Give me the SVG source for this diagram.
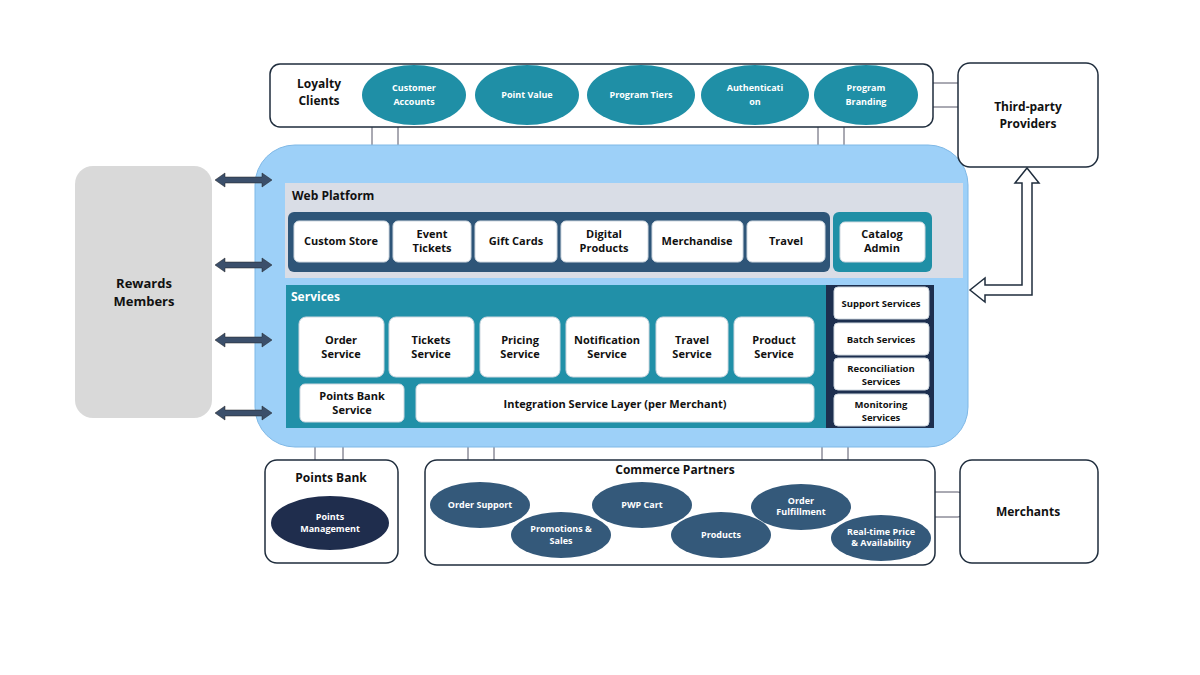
<svg xmlns="http://www.w3.org/2000/svg" width="1200" height="675" viewBox="0 0 1200 675">
<style>
text{font-family:"Open Sans","Liberation Sans",sans-serif;font-weight:bold;text-anchor:middle}
.box{fill:#fff;stroke:#1f2d3d;stroke-width:1.5}
.wb{fill:#fff;stroke:#cfd8e0;stroke-width:1}
.t{font-size:11px;fill:#111}
.w{font-size:9px;fill:#fff}
.oc{fill:#1f8fa6}
.oe{fill:#34597a}
.tab{fill:#fff;stroke:#556;stroke-width:1}
.arr{fill:#3b4f6b;stroke:#222;stroke-width:0.5}
</style>
<rect width="1200" height="675" fill="#fff"/>
<g id="tabs">
<rect class="tab" x="372" y="120" width="26" height="33" rx="6"/>
<rect class="tab" x="818" y="120" width="26" height="33" rx="6"/>
<rect class="tab" x="926" y="83" width="38" height="24" rx="6"/>
<rect class="tab" x="315" y="436" width="28" height="30" rx="6"/>
<rect class="tab" x="468" y="436" width="26" height="30" rx="6"/>
<rect class="tab" x="822" y="436" width="26" height="30" rx="6"/>
<rect class="tab" x="928" y="492" width="36" height="25" rx="6"/>
</g>
<g id="rewards-members"><rect x="75" y="166" width="137" height="252" rx="18" fill="#d9d9d9"/><text x="144" y="288" font-size="13" fill="#111">Rewards</text><text x="144" y="306" font-size="13" fill="#111">Members</text></g>
<g id="platform"><rect x="255" y="145" width="713" height="302" rx="40" fill="#9dd0f8" stroke="#7fb8e6"/></g>
<g id="loyalty-clients">
<rect class="box" x="270" y="64" width="663" height="63" rx="10"/>
<text x="319" y="88" font-size="12" fill="#111">Loyalty</text><text x="319" y="105" font-size="12" fill="#111">Clients</text>
<ellipse class="oc" cx="414" cy="95" rx="52" ry="30"/><text class="w" x="414" y="91">Customer</text><text class="w" x="414" y="105">Accounts</text>
<ellipse class="oc" cx="527" cy="95" rx="52" ry="30"/><text class="w" x="527" y="98">Point Value</text>
<ellipse class="oc" cx="641" cy="95" rx="54" ry="30"/><text class="w" x="641" y="98">Program Tiers</text>
<ellipse class="oc" cx="755" cy="95" rx="54" ry="30"/><text class="w" x="755" y="91">Authenticati</text><text class="w" x="755" y="105">on</text>
<ellipse class="oc" cx="866" cy="95" rx="52" ry="30"/><text class="w" x="866" y="91">Program</text><text class="w" x="866" y="105">Branding</text>
</g>
<g id="third-party"><rect class="box" x="958" y="63" width="140" height="104" rx="12"/><text x="1028" y="111" font-size="12" fill="#111">Third-party</text><text x="1028" y="128" font-size="12" fill="#111">Providers</text></g>
<g id="web-platform">
<rect x="285" y="183" width="678" height="95" fill="#d9dde6"/>
<text x="292" y="200" font-size="12" fill="#111" style="text-anchor:start">Web Platform</text>
<rect x="288" y="212" width="542" height="60" rx="6" fill="#2e5578"/>
<rect class="wb" x="294" y="221" width="95" height="41" rx="5"/><text class="t" x="341" y="245">Custom Store</text>
<rect class="wb" x="393" y="221" width="78" height="41" rx="5"/><text class="t" x="432" y="238">Event</text><text class="t" x="432" y="252">Tickets</text>
<rect class="wb" x="475" y="221" width="82" height="41" rx="5"/><text class="t" x="516" y="245">Gift Cards</text>
<rect class="wb" x="561" y="221" width="87" height="41" rx="5"/><text class="t" x="604" y="238">Digital</text><text class="t" x="604" y="252">Products</text>
<rect class="wb" x="652" y="221" width="91" height="41" rx="5"/><text class="t" x="697" y="245">Merchandise</text>
<rect class="wb" x="747" y="221" width="78" height="41" rx="5"/><text class="t" x="786" y="245">Travel</text>
<rect x="833" y="212" width="99" height="60" rx="6" fill="#1f8fa6"/>
<rect class="wb" x="840" y="222" width="85" height="40" rx="5"/><text class="t" x="882" y="238">Catalog</text><text class="t" x="882" y="252">Admin</text>
</g>
<g id="services">
<rect x="286" y="285" width="540" height="143" fill="#2190a8"/>
<text x="291" y="301" font-size="12" fill="#fff" style="text-anchor:start">Services</text>
<rect class="wb" x="299" y="317" width="85" height="60" rx="7"/><text class="t" x="341" y="344">Order</text><text class="t" x="341" y="358">Service</text>
<rect class="wb" x="389" y="317" width="85" height="60" rx="7"/><text class="t" x="431" y="344">Tickets</text><text class="t" x="431" y="358">Service</text>
<rect class="wb" x="480" y="317" width="80" height="60" rx="7"/><text class="t" x="520" y="344">Pricing</text><text class="t" x="520" y="358">Service</text>
<rect class="wb" x="566" y="317" width="83" height="60" rx="7"/><text class="t" x="607" y="344">Notification</text><text class="t" x="607" y="358">Service</text>
<rect class="wb" x="656" y="317" width="72" height="60" rx="7"/><text class="t" x="692" y="344">Travel</text><text class="t" x="692" y="358">Service</text>
<rect class="wb" x="734" y="317" width="80" height="60" rx="7"/><text class="t" x="774" y="344">Product</text><text class="t" x="774" y="358">Service</text>
<rect class="wb" x="300" y="384" width="104" height="38" rx="5"/><text class="t" x="352" y="400">Points Bank</text><text class="t" x="352" y="414">Service</text>
<rect class="wb" x="416" y="384" width="398" height="38" rx="5"/><text class="t" x="615" y="408">Integration Service Layer (per Merchant)</text>
<rect x="826" y="285" width="108" height="143" fill="#1d2f4f"/>
<rect class="wb" x="834" y="287" width="95" height="32" rx="4"/><text x="881" y="307" font-size="9.5" fill="#111">Support Services</text>
<rect class="wb" x="834" y="323" width="95" height="32" rx="4"/><text x="881" y="343" font-size="9.5" fill="#111">Batch Services</text>
<rect class="wb" x="834" y="358" width="95" height="32" rx="4"/><text x="881" y="372" font-size="9.5" fill="#111">Reconciliation</text><text x="881" y="385" font-size="9.5" fill="#111">Services</text>
<rect class="wb" x="834" y="394" width="95" height="32" rx="4"/><text x="881" y="408" font-size="9.5" fill="#111">Monitoring</text><text x="881" y="421" font-size="9.5" fill="#111">Services</text>
</g>
<g id="points-bank">
<rect class="box" x="265" y="460" width="133" height="103" rx="12"/>
<text x="331" y="482" font-size="12" fill="#111">Points Bank</text>
<ellipse cx="330" cy="523" rx="59" ry="27" fill="#1f2d4d"/><text class="w" x="330" y="520" font-size="8">Points</text><text class="w" x="330" y="532" font-size="8">Management</text>
</g>
<g id="commerce-partners">
<rect class="box" x="425" y="460" width="510" height="105" rx="12"/>
<text x="675" y="474" font-size="12" fill="#111">Commerce Partners</text>
<ellipse class="oe" cx="480" cy="505" rx="50" ry="23"/><text class="w" x="480" y="508" font-size="8">Order Support</text>
<ellipse class="oe" cx="561" cy="535" rx="50" ry="23"/><text class="w" x="561" y="532" font-size="8">Promotions &amp;</text><text class="w" x="561" y="544" font-size="8">Sales</text>
<ellipse class="oe" cx="642" cy="505" rx="50" ry="23"/><text class="w" x="642" y="508" font-size="8">PWP Cart</text>
<ellipse class="oe" cx="721" cy="535" rx="50" ry="23"/><text class="w" x="721" y="538" font-size="8">Products</text>
<ellipse class="oe" cx="801" cy="507" rx="50" ry="23"/><text class="w" x="801" y="504" font-size="8">Order</text><text class="w" x="801" y="515" font-size="8">Fulfillment</text>
<ellipse class="oe" cx="881" cy="538" rx="50" ry="23"/><text class="w" x="881" y="535" font-size="8">Real-time Price</text><text class="w" x="881" y="546" font-size="8">&amp; Availability</text>
</g>
<g id="merchants"><rect class="box" x="960" y="460" width="138" height="103" rx="12"/><text x="1028" y="516" font-size="12" fill="#111">Merchants</text></g>
<g id="connectors">
<path class="arr" d="M215 180 L225 173 L225 177 L262 177 L262 173 L272 180 L262 187 L262 183 L225 183 L225 187 Z"/>
<path class="arr" d="M215 265 L225 258 L225 262 L262 262 L262 258 L272 265 L262 272 L262 268 L225 268 L225 272 Z"/>
<path class="arr" d="M215 340 L225 333 L225 337 L262 337 L262 333 L272 340 L262 347 L262 343 L225 343 L225 347 Z"/>
<path class="arr" d="M215 413 L225 406 L225 410 L262 410 L262 406 L272 413 L262 420 L262 416 L225 416 L225 420 Z"/>
<path d="M1027 168 L1039 183 L1032 183 L1032 295 L985 295 L985 302 L970 290 L985 278 L985 285 L1022 285 L1022 183 L1015 183 Z" fill="#fff" stroke="#1f2d3d" stroke-width="1.5"/>
</g>
</svg>
